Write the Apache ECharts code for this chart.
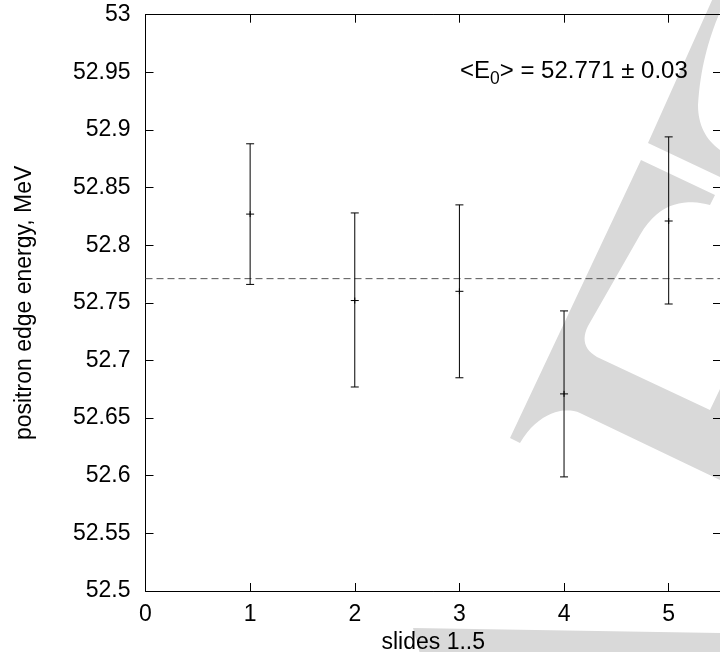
<!DOCTYPE html>
<html>
<head>
<meta charset="utf-8">
<script src="https://cdn.jsdelivr.net/npm/echarts@6/dist/echarts.min.js"></script>
<style>
html,body{margin:0;padding:0;background:#fff;}
#chart{width:720px;height:652px;}
</style>
</head>
<body>
<div id="chart"></div>
<script>
// ---- data ----
const slides = [1, 2, 3, 4, 5];
const edgeEnergy = [52.827, 52.752, 52.760, 52.671, 52.821];
const errLow = [52.766, 52.677, 52.685, 52.599, 52.749];
const errHigh = [52.888, 52.828, 52.835, 52.743, 52.894];
const meanE = 52.771;
const meanErr = 0.03;
const xMin = 0, xMax = 5.5, xStep = 1;
const yMin = 52.5, yMax = 53, yStep = 0.05;

const FONT = 'Liberation Sans';
const FS = 23;

const chart = echarts.init(document.getElementById('chart'), null, {renderer: 'canvas'});

const errData = slides.map((x, i) => [x, errLow[i], errHigh[i], edgeEnergy[i]]);

function renderErr(params, api) {
  const x = api.value(0);
  const lo = api.coord([x, api.value(1)]);
  const hi = api.coord([x, api.value(2)]);
  const c = api.coord([x, api.value(3)]);
  const hw = 4;
  const st = {stroke: '#000', lineWidth: 1};
  return {
    type: 'group',
    children: [
      {type: 'line', shape: {x1: lo[0], y1: lo[1], x2: hi[0], y2: hi[1]}, style: st},
      {type: 'line', shape: {x1: lo[0] - hw, y1: lo[1], x2: lo[0] + hw, y2: lo[1]}, style: st},
      {type: 'line', shape: {x1: hi[0] - hw, y1: hi[1], x2: hi[0] + hw, y2: hi[1]}, style: st},
      {type: 'line', shape: {x1: c[0] - hw, y1: c[1], x2: c[0] + hw, y2: c[1]}, style: st},
      {type: 'line', shape: {x1: c[0], y1: c[1] - 3, x2: c[0], y2: c[1] + 3}, style: st}
    ]
  };
}

// decorative watermark outline helper: segments -> polygon points
function outline(segs) {
  const pts = [];
  let cur = null;
  segs.forEach(s => {
    if (s[0] === 'M' || s[0] === 'L') { cur = [s[1], s[2]]; pts.push(cur); }
    else if (s[0] === 'C') {
      const p0 = cur, p1 = [s[1], s[2]], p2 = [s[3], s[4]], p3 = [s[5], s[6]];
      for (let t = 1; t <= 16; t++) {
        const u = t / 16, m = 1 - u;
        pts.push([
          m*m*m*p0[0] + 3*m*m*u*p1[0] + 3*m*u*u*p2[0] + u*u*u*p3[0],
          m*m*m*p0[1] + 3*m*m*u*p1[1] + 3*m*u*u*p2[1] + u*u*u*p3[1]
        ]);
      }
      cur = p3;
    } else if (s[0] === 'Q') {
      const p0 = cur, p1 = [s[1], s[2]], p2 = [s[3], s[4]];
      for (let t = 1; t <= 12; t++) {
        const u = t / 12, m = 1 - u;
        pts.push([m*m*p0[0] + 2*m*u*p1[0] + u*u*p2[0], m*m*p0[1] + 2*m*u*p1[1] + u*u*p2[1]]);
      }
      cur = p2;
    }
  });
  return pts;
}

const GRAY = '#d9d9d9';
const wm1 = outline([['M',510,438],['L',641,160],['L',715,195],['L',710,205],
  ['C',688,199,660,200,640,235],['L',588,326],['Q',578,346,597,357],['L',710,410],['L',720,389],
  ['L',722,389],['L',722,481],['L',720,480],['L',580,413],['C',565,406,538,412,520,443]]);
const wm2 = outline([['M',648,143],['L',713,-2],['L',722,-2],['L',722,8],['L',720,12],
  ['C',708,40,700,70,698,105],['C',698,125,706,140,720,150],['L',722,151],['L',722,178],['L',720,177]]);
const wm3 = outline([['M',413,628],['L',722,633],['L',722,654],['L',420,654]]);

const axisLineStyle = {show: true, onZero: false, lineStyle: {color: '#000', width: 1}};
const tickStyle = {show: true, inside: true, length: 8, lineStyle: {color: '#000', width: 1}};
const labelStyle = {color: '#000', fontFamily: FONT, fontSize: FS};

const option = {
  animation: false,
  backgroundColor: '#fff',
  grid: {left: 145.5, right: -1, top: 14.7, bottom: 61, containLabel: false, outerBoundsMode: 'none'},
  xAxis: [
    {
      type: 'value', min: xMin, max: xMax, interval: xStep, position: 'bottom',
      axisLine: axisLineStyle, axisTick: tickStyle, splitLine: {show: false},
      axisLabel: Object.assign({}, labelStyle, {margin: 12,
        formatter: v => (Math.abs(v - Math.round(v)) < 1e-9 ? String(v) : '')}),
      name: 'slides 1..5', nameLocation: 'middle', nameGap: 40,
      nameTextStyle: {color: '#000', fontFamily: FONT, fontSize: FS}
    },
    {
      type: 'value', min: xMin, max: xMax, interval: xStep, position: 'top',
      axisLine: axisLineStyle, axisTick: tickStyle, splitLine: {show: false},
      axisLabel: {show: false}
    }
  ],
  yAxis: [
    {
      type: 'value', min: yMin, max: yMax, interval: yStep, position: 'left',
      axisLine: axisLineStyle, axisTick: tickStyle, splitLine: {show: false},
      axisLabel: Object.assign({}, labelStyle, {margin: 15}),
      name: 'positron edge energy, MeV', nameLocation: 'middle', nameGap: 109, nameRotate: 90,
      nameTextStyle: {color: '#000', fontFamily: FONT, fontSize: FS}
    },
    {
      type: 'value', min: yMin, max: yMax, interval: yStep, position: 'right',
      axisLine: axisLineStyle, axisTick: tickStyle, splitLine: {show: false},
      axisLabel: {show: false}
    }
  ],
  graphic: [
    {type: 'polygon', z: -100, silent: true, shape: {points: wm1}, style: {fill: GRAY}},
    {type: 'polygon', z: -100, silent: true, shape: {points: wm2}, style: {fill: GRAY}},
    {type: 'polygon', z: -100, silent: true, shape: {points: wm3}, style: {fill: GRAY}},
    {
      type: 'text', z: 50, left: 460, top: 59,
      style: {
        text: '{a|<E}{s|0}{a|> = ' + meanE + ' \u00b1 ' + meanErr.toFixed(2) + '}',
        rich: {
          a: {fontFamily: FONT, fontSize: 24, lineHeight: 26, verticalAlign: 'top', fill: '#000'},
          s: {fontFamily: FONT, fontSize: 17.5, lineHeight: 17, padding: [11.5, 0, 0, 0], verticalAlign: 'top', fill: '#000'}
        }
      }
    }
  ],
  series: [
    {
      type: 'line', xAxisIndex: 0, yAxisIndex: 0,
      data: [[xMin, meanE], [xMax, meanE]],
      symbol: 'none', silent: true,
      lineStyle: {color: '#555', width: 1, type: [7, 4]}
    },
    {
      type: 'custom', xAxisIndex: 0, yAxisIndex: 0,
      renderItem: renderErr, data: errData, z: 10, silent: true
    }
  ]
};
chart.setOption(option);
</script>
</body>
</html>
